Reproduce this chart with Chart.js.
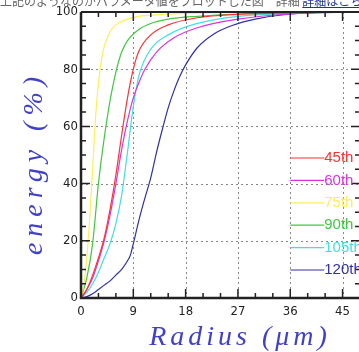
<!DOCTYPE html>
<html>
<head>
<meta charset="utf-8">
<script src="https://cdn.jsdelivr.net/npm/chart.js@4.4.0/dist/chart.umd.min.js"></script>
<style>
html, body { margin: 0; padding: 0; background: #fff; overflow: hidden; width: 359px; height: 352px; }
#wrap { position: relative; width: 366px; height: 352px; }
#note { position: absolute; left: 0; top: -8px; font: 12px "Noto Sans CJK JP"; color: #666; white-space: nowrap; }
#note a { color: #2233aa; }
canvas { display: block; }
</style>
</head>
<body>
<div id="wrap">
  <div id="note">上記のようなのがパラメータ値をプロットした図　詳細 <a href="#">詳細はこちら</a></div>
  <canvas id="myChart" width="366" height="352"></canvas>
</div>
<script>
// harmonic orders and their colours
const labels = ['45th', '60th', '75th', '90th', '105th', '120th'];
const colors = ['#ff3030', '#e030e0', '#ffee55', '#40c840', '#40e0e0', '#3030a8'];

// radius (um) and encircled energy (%)
const r45 = [0, 1, 2, 3, 4, 5, 6, 7, 8, 9, 10, 12, 15, 20, 27, 36, 48];
const e45 = [0, 3, 8, 14, 21, 31, 43, 57, 70, 80, 86.5, 92, 95.5, 98, 99.2, 99.7, 100];
const r60 = [0, 1, 2, 3, 4, 5, 6, 7, 8, 9, 10, 11, 13, 16, 20, 27, 36, 48];
const e60 = [0, 3, 7, 13, 20, 29, 40, 52, 62, 70, 75.5, 80, 86, 91, 94.5, 97.5, 99.3, 100];
const r75 = [0, 0.5, 1, 1.5, 2, 2.5, 3, 3.5, 4, 5, 6, 8, 10, 13, 18, 25, 35, 48];
const e75 = [0, 5, 14, 28, 45, 63, 75, 83, 88, 93, 95.5, 97.5, 98.5, 99, 99.5, 99.8, 100, 100];
const r90 = [0, 1, 2, 3, 4, 5, 6, 7, 8, 10, 12, 15, 20, 27, 36, 48];
const e90 = [0, 7, 19, 40, 56, 69, 79, 86, 90, 94, 96, 97.5, 98.5, 99.3, 99.8, 100];
const r105 = [0, 1, 2, 3, 4, 5, 6, 7, 8, 9, 10, 12, 15, 20, 27, 36, 48];
const e105 = [0, 2, 5, 9, 14, 19, 26, 36, 51, 67, 78, 87, 92, 96, 98.5, 99.5, 100];
const r120 = [0, 1, 2, 3, 4, 5, 6, 7, 8, 8.5, 9, 10, 11, 12, 13, 14, 15, 16, 17, 18, 20, 23, 26, 30, 36, 45, 48];
const e120 = [0, 0.5, 1.5, 3, 4.5, 6, 8, 10, 13, 15, 19, 27.5, 35, 42, 51, 59, 66.5, 72.5, 77.5, 81.5, 87.5, 92.5, 95.3, 97.5, 99.3, 100, 100];

const radii = [r45, r60, r75, r90, r105, r120];
const energies = [e45, e60, e75, e90, e105, e120];

const xTicks = [0, 9, 18, 27, 36, 45];
const yTicks = [0, 20, 40, 60, 80, 100];

let datasets = [];
for (let i = 0; i < labels.length; i++) {
    let pts = [];
    for (let j = 0; j < radii[i].length; j++) {
        pts.push({ x: radii[i][j], y: energies[i][j] });
    }
    datasets.push({
        label: labels[i],
        data: pts,
        borderColor: colors[i],
        borderWidth: 1.2,
        pointRadius: 0,
        cubicInterpolationMode: 'monotone',
        fill: false
    });
}

const axisDeco = {
    id: 'axisDeco',
    beforeDatasetsDraw(chart) {
        const ctx = chart.ctx;
        const a = chart.chartArea;
        const xs = chart.scales.x, ys = chart.scales.y;
        ctx.save();
        ctx.strokeStyle = '#888';
        ctx.lineWidth = 1;
        ctx.setLineDash([2, 3]);
        xTicks.forEach(v => {
            if (v <= 0) return;
            const px = Math.round(xs.getPixelForValue(v)) + 0.5;
            ctx.beginPath(); ctx.moveTo(px, a.top); ctx.lineTo(px, a.bottom); ctx.stroke();
        });
        yTicks.forEach(v => {
            if (v <= 0 || v >= 100) return;
            const py = Math.round(ys.getPixelForValue(v)) + 0.5;
            ctx.beginPath(); ctx.moveTo(a.left, py); ctx.lineTo(a.right, py); ctx.stroke();
        });
        ctx.restore();
    },
    afterDatasetsDraw(chart) {
        const ctx = chart.ctx;
        const a = chart.chartArea;
        const xs = chart.scales.x, ys = chart.scales.y;
        ctx.save();
        ctx.setLineDash([]);
        ctx.strokeStyle = '#222';

        // ticks pointing inward
        ctx.lineWidth = 1.5;
        for (let v = 0; v <= 48; v += 3) {
            const px = xs.getPixelForValue(v);
            const len = v % 9 === 0 ? 9 : 5;
            ctx.beginPath();
            ctx.moveTo(px, a.bottom); ctx.lineTo(px, a.bottom - len);
            ctx.moveTo(px, a.top); ctx.lineTo(px, a.top + len);
            ctx.stroke();
        }
        for (let v = 0; v <= 100; v += 5) {
            const py = ys.getPixelForValue(v);
            const len = v % 20 === 0 ? 9 : 5;
            ctx.beginPath();
            ctx.moveTo(a.left, py); ctx.lineTo(a.left + len, py);
            ctx.moveTo(a.right, py); ctx.lineTo(a.right - len, py);
            ctx.stroke();
        }

        // frame
        ctx.lineWidth = 2.5;
        ctx.beginPath();
        ctx.moveTo(a.left, a.top); ctx.lineTo(a.left, a.bottom); ctx.lineTo(a.right, a.bottom);
        ctx.stroke();
        ctx.lineWidth = 2;
        ctx.beginPath();
        ctx.moveTo(a.left, a.top); ctx.lineTo(a.right, a.top); ctx.lineTo(a.right, a.bottom);
        ctx.stroke();

        // tick labels
        ctx.fillStyle = '#222';
        ctx.font = '13px "DejaVu Sans Condensed", "DejaVu Sans"';
        ctx.textAlign = 'center';
        ctx.textBaseline = 'top';
        xTicks.forEach(v => {
            ctx.fillText(String(v), xs.getPixelForValue(v), a.bottom + 7);
        });
        ctx.textAlign = 'right';
        ctx.textBaseline = 'middle';
        yTicks.forEach(v => {
            ctx.fillText(String(v), a.left - 3, ys.getPixelForValue(v));
        });

        // legend inside the plot
        ctx.font = '15px "Liberation Sans"';
        ctx.textAlign = 'left';
        const lx = xs.getPixelForValue(36);
        for (let i = 0; i < labels.length; i++) {
            const ly = 158 + i * 22.4;
            ctx.strokeStyle = colors[i];
            ctx.lineWidth = 1.2;
            ctx.beginPath(); ctx.moveTo(lx, ly); ctx.lineTo(lx + 34, ly); ctx.stroke();
            ctx.fillStyle = colors[i];
            ctx.fillText(labels[i], lx + 34, ly);
        }

        // axis titles
        ctx.fillStyle = '#4040c8';
        ctx.font = 'italic 28px "Liberation Serif"';
        ctx.textAlign = 'center';
        ctx.textBaseline = 'alphabetic';
        ctx.letterSpacing = '4px';
        ctx.fillText('Radius (\u03bcm)', 240, 345);
        ctx.letterSpacing = '6px';
        ctx.translate(42, 163);
        ctx.rotate(-Math.PI / 2);
        ctx.fillText('energy (%)', 0, 0);
        ctx.restore();
    }
};

const config = {
    type: 'line',
    data: { datasets: datasets },
    options: {
        responsive: false,
        animation: false,
        layout: { padding: { left: 0, top: 12, right: 6, bottom: 0 } },
        plugins: { legend: { display: false }, tooltip: { enabled: false } },
        scales: {
            x: {
                type: 'linear', min: 0, max: 48,
                grid: { display: false }, border: { display: false },
                ticks: { display: false },
                afterFit: function (s) { s.height = 54; }
            },
            y: {
                type: 'linear', min: 0, max: 100,
                grid: { display: false }, border: { display: false },
                ticks: { display: false },
                afterFit: function (s) { s.width = 81; }
            }
        }
    },
    plugins: [axisDeco]
};

const myChart = new Chart(document.getElementById('myChart'), config);
</script>
</body>
</html>
